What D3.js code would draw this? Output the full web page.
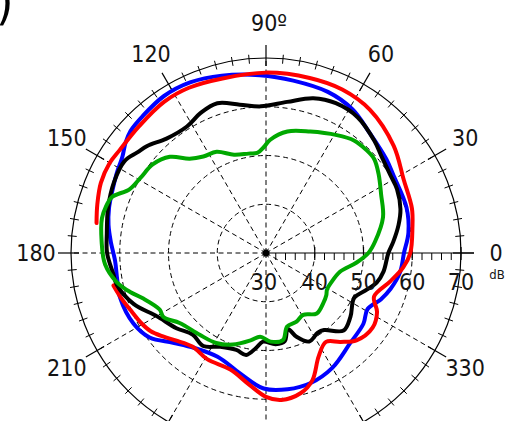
<!DOCTYPE html>
<html>
<head>
<meta charset="utf-8">
<script src="https://cdn.jsdelivr.net/npm/d3@7"></script>
<style>
  html, body { margin: 0; padding: 0; background: #fff; }
  svg { display: block; }
  text { font-family: "DejaVu Sans Condensed", "DejaVu Sans", sans-serif; font-stretch: condensed; fill: #141414; }
</style>
</head>
<body>
<svg id="chart" width="508" height="421"></svg>
<script>
// Polar radiation pattern: level in dB (30..70) against angle in degrees
const radialTicks = [30, 40, 50, 60, 70];
const gridRings = [40, 50, 60];
const angleTicks = [0, 30, 60, 90, 120, 150, 180, 210, 240, 270, 300, 330];
const angleLabels = [[0, "0"], [30, "30"], [60, "60"], [90, "90º"], [120, "120"], [150, "150"], [180, "180"], [210, "210"], [330, "330"]];
const unitLabel = "dB";

// [angle (deg), level (dB)]
const blueTrace = [[0,58.3],[8,59.5],[18,60.3],[31,60.6],[38,61.3],[49,62.5],[59,64.4],[69,65.4],[81,65.8],[92,66.5],[104,67.5],[114,68.3],[123,68.4],[132,67.8],[138,67.4],[142,66.6],[146,65.5],[152,64.7],[158,64.0],[164,63.5],[170,62.8],[176,61.9],[183,61.0],[190,61.0],[197,61.3],[208,60.8],[216,59.5],[224,56.5],[233,54.4],[245,53.5],[258,55.3],[269,57.8],[279,58.3],[289,58.2],[300,57.2],[313,55.3],[324,54.7],[331,53.8],[338,55.4],[344,56.6],[352,57.8]];

// open trace, no data between 170 and 192 deg
const redTrace = [[192,62.0],[198,61.0],[204,60.0],[209,59.4],[214,58.6],[219,57.2],[224,55.8],[232,54.4],[241,54.9],[253,55.0],[263,57.3],[270,59.5],[276,60.3],[284,59.6],[290,57.8],[297,53.8],[304,52.0],[310,53.8],[316,55.8],[325,56.7],[332,55.8],[338,53.9],[347,56.1],[354,58.3],[0,59.6],[10,60.5],[17,61.3],[28,62.0],[40,64.2],[54,66.3],[65,67.0],[76,67.0],[90,67.0],[104,66.9],[115,67.4],[124,67.4],[135,66.8],[145,66.7],[150,67.0],[157,66.8],[164,66.0],[170,65.3]];

const blackTrace = [[0,55.1],[5,56.2],[12,57.8],[18,59.0],[26,59.9],[32,60.1],[40,60.9],[46,62.0],[56,63.6],[65,63.9],[73,63.2],[82,61.3],[92,60.1],[100,60.9],[108,62.3],[115,61.7],[122,60.6],[131,61.1],[138,62.8],[142,63.5],[147,64.6],[155,64.4],[164,63.7],[173,62.9],[180,62.6],[188,61.6],[192,61.3],[201,59.1],[210,55.9],[220,54.0],[228,52.5],[236,53.0],[244,51.4],[253,50.8],[259,51.3],[264,49.6],[268,48.2],[276,48.8],[282,48.5],[286,46.2],[290,48.3],[296,50.2],[303,49.5],[307,49.8],[315,52.5],[323,51.7],[333,50.3],[340,52.0],[345,53.5],[351,54.4]];

const greenTrace = [[0,51.0],[6,52.5],[17,55.1],[27,56.5],[35,58.2],[41,59.4],[46,59.5],[52,59.3],[59,58.2],[70,56.5],[80,55.3],[88,53.2],[91,51.8],[95,50.6],[100,50.7],[108,51.2],[116,53.1],[123,53.6],[129,54.9],[135,57.9],[142,59.5],[149,60.0],[155,60.9],[160,63.6],[164,64.2],[168,64.4],[176,63.8],[184,63.1],[191,61.2],[196,59.0],[200,57.0],[208,54.7],[212,54.8],[219,52.8],[231,51.6],[241,51.1],[250,50.0],[260,48.2],[266,47.2],[273,48.2],[281,48.2],[286,45.7],[294,45.4],[301,44.8],[310,46.2],[319,45.6],[325,45.1],[329,44.6],[336,44.7],[346,45.7],[354,48.7]];

const traces = [
  { data: blueTrace,  color: "#0000ff", closed: true },
  { data: redTrace,   color: "#ff0000", closed: false },
  { data: blackTrace, color: "#000000", closed: true },
  { data: greenTrace, color: "#00a800", closed: true }
];

const svg = d3.select("#chart");
const cx = 266, cy = 253, R = 195;

const r = d3.scaleLinear().domain([30, 70]).range([0, R]);
// compass angle for d3 (clockwise from top) from a math angle (counter-clockwise from right)
const toRad = deg => (90 - deg) * Math.PI / 180;
const px = (deg, rad) => rad * Math.sin(toRad(deg));
const py = (deg, rad) => -rad * Math.cos(toRad(deg));

const g = svg.append("g").attr("transform", `translate(${cx},${cy})`);

// dashed grid rings
g.selectAll("circle.ring").data(gridRings).join("circle")
  .attr("class", "ring")
  .attr("r", d => r(d))
  .attr("fill", "none").attr("stroke", "#000").attr("stroke-width", 1)
  .attr("stroke-dasharray", "5,3.5");

// dashed spokes (the 0 deg direction carries the solid radial axis)
g.selectAll("line.spoke").data(angleTicks.filter(a => a !== 0)).join("line")
  .attr("class", "spoke")
  .attr("x1", 0).attr("y1", 0)
  .attr("x2", d => px(d, R)).attr("y2", d => py(d, R))
  .attr("stroke", "#000").attr("stroke-width", 1)
  .attr("stroke-dasharray", "5,3.5");

// outer ring
g.append("circle").attr("r", R).attr("fill", "none").attr("stroke", "#000").attr("stroke-width", 1.2);

// minor angular ticks every 5 deg
const minorAngles = d3.range(0, 360, 5).filter(a => a % 30 !== 0);
g.selectAll("line.minor").data(minorAngles).join("line")
  .attr("class", "minor")
  .attr("x1", d => px(d, R - 5)).attr("y1", d => py(d, R - 5))
  .attr("x2", d => px(d, R + 4)).attr("y2", d => py(d, R + 4))
  .attr("stroke", "#000").attr("stroke-width", 1);

// major angular ticks crossing the ring
g.selectAll("line.major").data(angleTicks).join("line")
  .attr("class", "major")
  .attr("x1", d => px(d, R - 8)).attr("y1", d => py(d, R - 8))
  .attr("x2", d => px(d, R + 13)).attr("y2", d => py(d, R + 13))
  .attr("stroke", "#000").attr("stroke-width", 1.2);

// radial axis along 0 deg
g.append("line").attr("x1", 0).attr("y1", 0).attr("x2", R + 13).attr("y2", 0)
  .attr("stroke", "#000").attr("stroke-width", 1.2);
const minorRadial = d3.range(30, 70.01, 2).filter(v => v % 10 !== 0);
g.selectAll("line.rminor").data(minorRadial).join("line")
  .attr("class", "rminor")
  .attr("x1", d => r(d)).attr("x2", d => r(d))
  .attr("y1", 0).attr("y2", 7)
  .attr("stroke", "#000").attr("stroke-width", 1);
g.selectAll("line.rmajor").data(radialTicks.filter(v => v > 30)).join("line")
  .attr("class", "rmajor")
  .attr("x1", d => r(d)).attr("x2", d => r(d))
  .attr("y1", -6).attr("y2", 7)
  .attr("stroke", "#000").attr("stroke-width", 1.2);

// traces
traces.forEach(t => {
  const line = d3.lineRadial()
    .angle(d => toRad(d[0]))
    .radius(d => r(d[1]))
    .curve(t.closed ? d3.curveCatmullRomClosed.alpha(0.5) : d3.curveCatmullRom.alpha(0.5));
  g.append("path")
    .attr("d", line(t.data))
    .attr("fill", "none")
    .attr("stroke", t.color)
    .attr("stroke-width", 4)
    .attr("stroke-linejoin", "round")
    .attr("stroke-linecap", "round");
});

// centre dot
g.append("circle").attr("r", 3.5).attr("fill", "#000");

// radial tick labels
g.selectAll("text.rlab").data(radialTicks).join("text")
  .attr("class", "rlab")
  .attr("x", d => r(d) - (d === 30 ? 2 : 0))
  .attr("y", 37)
  .attr("text-anchor", "middle")
  .attr("font-size", 23)
  .text(d => d);

// angle labels
const LR = 230;
g.selectAll("text.alab").data(angleLabels).join("text")
  .attr("class", "alab")
  .attr("x", d => px(d[0], LR) + (d[0] === 90 ? 3 : 0))
  .attr("y", d => py(d[0], LR))
  .attr("dy", "0.36em")
  .attr("text-anchor", "middle")
  .attr("font-size", 23)
  .text(d => d[1]);

g.append("text")
  .attr("x", px(0, LR) + 1).attr("y", 26)
  .attr("text-anchor", "middle")
  .attr("font-size", 13)
  .text(unitLabel);

// panel tag, mostly outside the frame
svg.append("text")
  .attr("x", -4).attr("y", 19)
  .attr("font-size", 50)
  .attr("font-family", "DejaVu Sans")
  .style("fill", "#000")
  .text(")");
</script>
</body>
</html>
